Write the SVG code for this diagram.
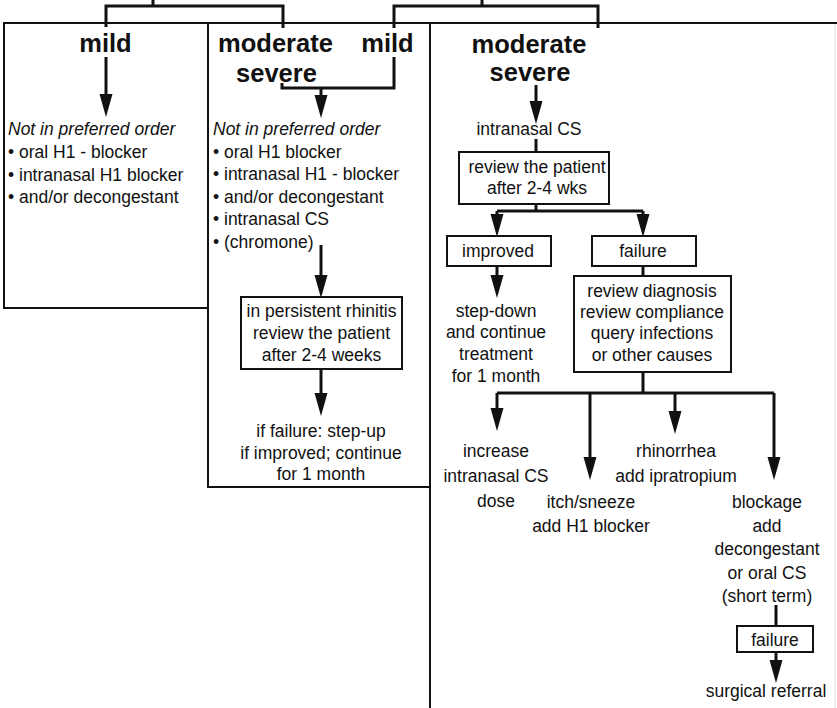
<svg xmlns="http://www.w3.org/2000/svg" width="837" height="708" viewBox="0 0 837 708">
<style>
.t{font-family:"Liberation Sans",Arial,sans-serif;font-size:17.5px;fill:#111}
.c{text-anchor:middle}
.b{font-family:"Liberation Sans",Arial,sans-serif;font-size:25.5px;font-weight:bold;fill:#111;text-anchor:middle}
.i{font-style:italic}
.box{fill:#fff;stroke:#111;stroke-width:2}
.frame{fill:none;stroke:#111;stroke-width:2}
.ln{fill:none;stroke:#111;stroke-width:3}
.ar{fill:none;stroke:#111;stroke-width:3;marker-end:url(#ah)}
</style>
<defs>
<marker id="ah" markerUnits="userSpaceOnUse" viewBox="0 -7 24 14" markerWidth="24" markerHeight="14" refX="10" refY="0" orient="auto">
<path d="M0,-6.5 L23,0 L0,6.5 z" fill="#111"/>
</marker>
</defs>
<rect width="837" height="708" fill="#fff"/>

<g id="frames">
<rect class="frame" x="4" y="23" width="204" height="285"/>
<rect class="frame" x="208" y="23" width="222" height="464"/>
<path class="frame" d="M430,710 L430,23 L837,23"/>
<path d="M835,24 L835,708" fill="none" stroke="#e2e2e2" stroke-width="1"/>
</g>

<g id="connectors">
<path class="ln" d="M153,0 V6 M106,27 V6 H283 V28"/>
<path class="ln" d="M482,0 V6 M394,28 V6 H598 V28"/>
<path class="ar" d="M106,57 V104"/>
<path class="ln" d="M394,57 V88 H282 V83"/>
<path class="ar" d="M321,88 V105"/>
<path class="ar" d="M536,85 V111"/>
<path class="ln" d="M536,139 V152"/>
<path class="ln" d="M536,204 V211 M497,211 H643"/>
<path class="ar" d="M497,211 V224"/>
<path class="ar" d="M643,211 V224"/>
<path class="ar" d="M497,266 V285"/>
<path class="ln" d="M643,266 V276"/>
<path class="ln" d="M643,372 V393 M497,393 H774"/>
<path class="ar" d="M497,393 V418"/>
<path class="ar" d="M590,393 V467"/>
<path class="ar" d="M675,393 V421"/>
<path class="ar" d="M774,393 V467"/>
<path class="ln" d="M776,605 V626"/>
<path class="ar" d="M776,652 V670"/>
<path class="ar" d="M321,245 V285"/>
<path class="ar" d="M321,369 V403"/>
</g>

<g id="headers">
<text class="b" x="105.5" y="52">mild</text>
<text class="b" x="275.5" y="52">moderate</text>
<text class="b" x="276.5" y="82">severe</text>
<text class="b" x="387.5" y="52">mild</text>
<text class="b" x="529" y="53">moderate</text>
<text class="b" x="530" y="81">severe</text>
</g>

<g id="mild-list">
<text class="t i" x="8" y="135">Not in preferred order</text>
<text class="t" x="8" y="158">• oral H1 - blocker</text>
<text class="t" x="8" y="181">• intranasal H1 blocker</text>
<text class="t" x="8" y="203">• and/or decongestant</text>
</g>

<g id="modsev-list">
<text class="t i" x="213" y="135">Not in preferred order</text>
<text class="t" x="213" y="157.5">• oral H1 blocker</text>
<text class="t" x="213" y="180">• intranasal H1 - blocker</text>
<text class="t" x="213" y="202.5">• and/or decongestant</text>
<text class="t" x="213" y="225">• intranasal CS</text>
<text class="t" x="213" y="247.5">• (chromone)</text>
</g>

<g id="persistent-review">
<rect class="box" x="241" y="297" width="161" height="72"/>
<text class="t c" x="321.5" y="317">in persistent rhinitis</text>
<text class="t c" x="321.5" y="339">review the patient</text>
<text class="t c" x="321.5" y="361">after 2-4 weeks</text>
</g>

<g id="step-up">
<text class="t c" x="321" y="437">if failure: step-up</text>
<text class="t c" x="321" y="459">if improved; continue</text>
<text class="t c" x="321" y="480">for 1 month</text>
</g>

<g id="intranasal-cs">
<text class="t c" x="529" y="135">intranasal CS</text>
</g>

<g id="review-2-4">
<rect class="box" x="459" y="152" width="150" height="52"/>
<text class="t c" x="537" y="173">review the patient</text>
<text class="t c" x="537" y="194">after 2-4 wks</text>
</g>

<g id="improved">
<rect class="box" x="447" y="236" width="104" height="30"/>
<text class="t c" x="498" y="257">improved</text>
</g>

<g id="failure1">
<rect class="box" x="592" y="236" width="104" height="30"/>
<text class="t c" x="643" y="257">failure</text>
</g>

<g id="step-down">
<text class="t c" x="496" y="317">step-down</text>
<text class="t c" x="496" y="338">and continue</text>
<text class="t c" x="496" y="360">treatment</text>
<text class="t c" x="496" y="382">for 1 month</text>
</g>

<g id="review-diagnosis">
<rect class="box" x="574" y="276" width="157" height="96"/>
<text class="t c" x="652" y="297">review diagnosis</text>
<text class="t c" x="652" y="318">review compliance</text>
<text class="t c" x="652" y="339">query infections</text>
<text class="t c" x="652" y="361">or other causes</text>
</g>

<g id="increase-dose">
<text class="t c" x="496" y="457">increase</text>
<text class="t c" x="496" y="482">intranasal CS</text>
<text class="t c" x="496" y="507">dose</text>
</g>

<g id="itch-sneeze">
<text class="t c" x="591" y="508">itch/sneeze</text>
<text class="t c" x="591" y="532">add H1 blocker</text>
</g>

<g id="rhinorrhea">
<text class="t c" x="676" y="457">rhinorrhea</text>
<text class="t c" x="676" y="482">add ipratropium</text>
</g>

<g id="blockage">
<text class="t c" x="767" y="508">blockage</text>
<text class="t c" x="767" y="532">add</text>
<text class="t c" x="767" y="555">decongestant</text>
<text class="t c" x="767" y="579">or oral CS</text>
<text class="t c" x="767" y="602">(short term)</text>
</g>

<g id="failure2">
<rect class="box" x="737" y="626" width="76" height="26"/>
<text class="t c" x="775" y="646">failure</text>
</g>

<g id="surgical">
<text class="t c" x="766" y="697">surgical referral</text>
</g>
</svg>
